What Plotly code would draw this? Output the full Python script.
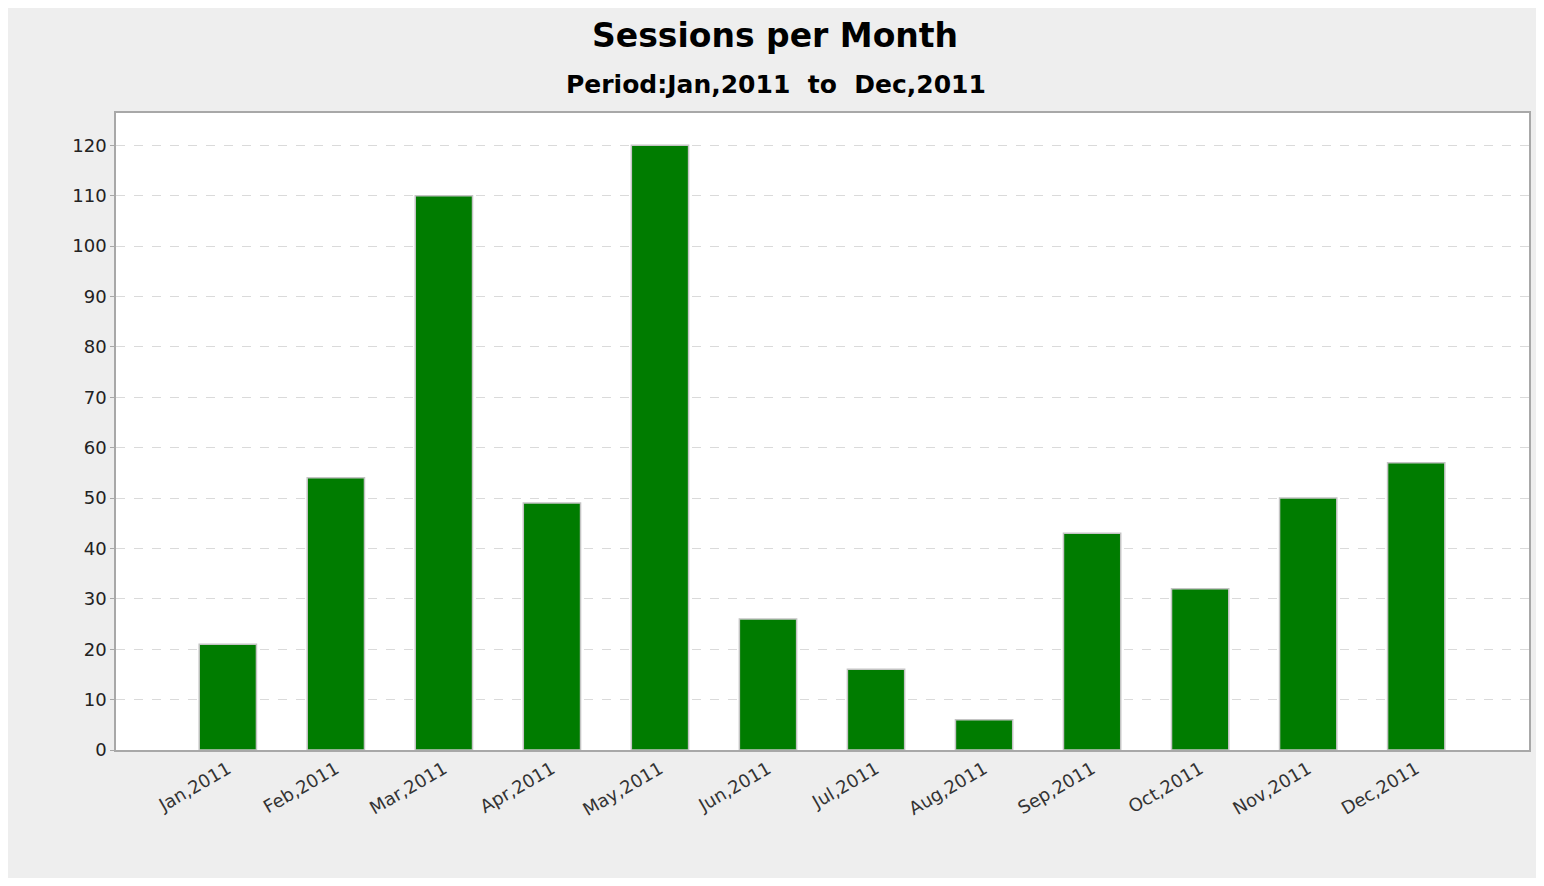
import plotly.graph_objects as go

# data
months = ["Jan,2011", "Feb,2011", "Mar,2011", "Apr,2011", "May,2011", "Jun,2011",
          "Jul,2011", "Aug,2011", "Sep,2011", "Oct,2011", "Nov,2011", "Dec,2011"]
sessions = [21, 54, 110, 49, 120, 26, 16, 6, 43, 32, 50, 57]
y_ticks = [0, 10, 20, 30, 40, 50, 60, 70, 80, 90, 100, 110, 120]

# the page puts the figure 8px in from the top left corner
OFF = 8
W, H = 1528, 870
ML, MR, MT, MB = 116 - OFF, W - (1531 - OFF), 113 - OFF, H - (750 - OFF)
pw, ph = W - ML - MR, H - MT - MB

def px(x):
    # screen x -> paper x
    return (x - OFF - ML) / pw

def py(y):
    # screen y -> paper y
    return (H - MB - (y - OFF)) / ph

FONT = "DejaVu Sans"

fig = go.Figure()
fig.add_trace(go.Bar(
    x=months, y=sessions,
    width=0.53,
    marker=dict(color="#007C00", line=dict(color="#C4C4C4", width=1.5)),
    hoverinfo="x+y",
))

fig.update_layout(
    width=W, height=H,
    margin=dict(l=ML, r=MR, t=MT, b=MB),
    paper_bgcolor="white",
    plot_bgcolor="white",
    showlegend=False,
    font=dict(family=FONT, color="#222222"),
    shapes=[
        # grey chart background
        dict(type="rect", xref="paper", yref="paper", layer="below",
             x0=px(0), x1=px(1544), y0=py(886), y1=py(0),
             fillcolor="#EEEEEE", line=dict(width=0)),
        # white plot area
        dict(type="rect", xref="paper", yref="paper", layer="below",
             x0=0, x1=1, y0=0, y1=1,
             fillcolor="white", line=dict(width=0)),
    ],
    annotations=[
        dict(text="<b>Sessions per Month</b>", xref="paper", yref="paper",
             x=px(776), y=py(35), xanchor="center", yanchor="middle",
             showarrow=False, font=dict(family=FONT, size=33, color="black")),
        dict(text="<b>Period:Jan,2011  to  Dec,2011</b>", xref="paper", yref="paper",
             x=px(777), y=py(85), xanchor="center", yanchor="middle",
             showarrow=False, font=dict(family=FONT, size=25, color="black")),
    ],
)

fig.update_xaxes(
    range=[-1.035, 12.044],
    showline=True, linecolor="#A8A8A8", linewidth=1.5, mirror=True,
    showgrid=False, ticks="", tickangle=-30,
    tickfont=dict(family=FONT, size=18, color="#333333"),
)
fig.update_yaxes(
    range=[0, 126.4],
    tickvals=y_ticks,
    showline=True, linecolor="#A8A8A8", linewidth=1.5, mirror=True,
    showgrid=True, gridcolor="#DADADA", griddash="dash", gridwidth=1,
    zeroline=False,
    ticks="outside", ticklen=4, tickcolor="#A8A8A8",
    tickfont=dict(family=FONT, size=18, color="#222222"),
)

fig.write_html("out.html")
